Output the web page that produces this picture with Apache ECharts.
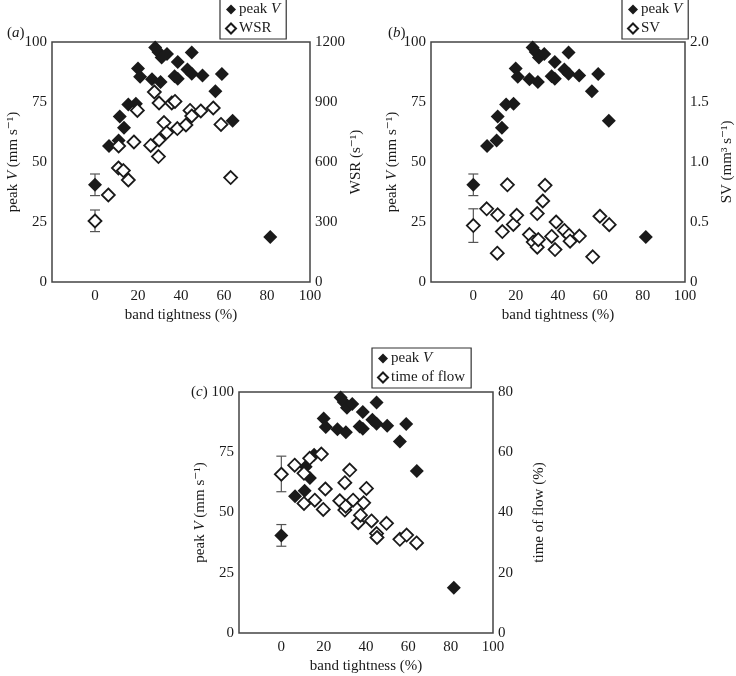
<!DOCTYPE html>
<html>
<head>
<meta charset="utf-8">
<script src="https://cdn.jsdelivr.net/npm/echarts@6/dist/echarts.min.js"></script>
<style>html,body{margin:0;padding:0;background:#fff}#c{width:736px;height:676px}</style>
</head>
<body>
<div id="c"></div>
<script>
// ---- data ----
const xTicks = [0, 20, 40, 60, 80, 100];
// peak V (same subjects in all panels)
const bandPeak = [0, 6.5, 11, 11.5, 13.5, 15.5, 19, 20, 21, 26.5, 28, 29.5, 30.5, 31, 33.5, 38.5, 37, 38.5, 43, 45, 45, 50, 56, 59, 64, 81.5];
const peakV   = [40.5, 56.7, 59, 69, 64.3, 74, 74.3, 89, 85.5, 84.5, 97.7, 95.8, 83.3, 93.5, 95, 91.7, 85.7, 84.7, 88.5, 86.8, 95.6, 86, 79.5, 86.7, 67.2, 18.8];
const errPeak = [36, 45];
// WSR (s^-1)
const bandW = [0, 6.2, 10.9, 11, 13.2, 15.5, 18.1, 19.7, 25.9, 27.6, 29.8, 29.5, 29.8, 32.1, 33.3, 35.7, 37.2, 38.3, 42.3, 44.2, 45, 49.2, 55, 58.6, 63.1];
const wsr   = [305, 435, 570, 680, 557, 510, 700, 858, 683, 950, 710, 627, 895, 797, 747, 895, 903, 767, 785, 858, 830, 855, 870, 788, 522];
const errWSR = [252, 360];
// SV (mm^3 s^-1)
const bandS = [0, 6.3, 11.3, 11.5, 13.7, 16.1, 18.9, 20.5, 26.5, 28.3, 30.2, 30.2, 30.7, 32.8, 33.9, 37, 38.6, 39.1, 43, 45.2, 45.7, 50.1, 56.4, 59.8, 64.2];
const sv    = [0.47, 0.61, 0.24, 0.56, 0.42, 0.81, 0.48, 0.556, 0.395, 0.333, 0.57, 0.29, 0.353, 0.675, 0.806, 0.38, 0.27, 0.5, 0.43, 0.39, 0.34, 0.383, 0.21, 0.548, 0.478];
const errSV = [0.33, 0.61];
// time of flow (%)
const bandT = [0, 6.3, 10.7, 10.7, 13.4, 15.8, 18.9, 19.8, 20.8, 27.6, 30, 30, 30.4, 32.3, 33.9, 36.3, 37.4, 38.9, 40.2, 42.6, 45, 45.2, 49.7, 56, 59.2, 63.9];
const tof   = [52.7, 55.7, 53, 43, 58, 44.1, 59.4, 41, 47.8, 43.9, 49.9, 40.8, 42.1, 54.1, 44.1, 36.6, 39.1, 43.2, 48, 37.2, 33, 31.7, 36.4, 31.1, 32.5, 29.9];
const errTOF = [46.9, 58.7];

// ---- helpers ----
const FONT = '"Liberation Serif", "DejaVu Serif", serif';
const FS = 15;
const INK = '#1a1a1a';
const AX = '#444';
const zip = (a, b) => a.map((v, i) => [v, b[i]]);
const rich = { i: { fontStyle: 'italic', fontFamily: FONT, fontSize: FS, color: INK } };

function xAxis(g) {
  return {
    gridIndex: g, type: 'value', min: -20, max: 100, interval: 20,
    axisLine: { show: false }, axisTick: { show: false }, splitLine: { show: false },
    axisLabel: { margin: 7, fontFamily: FONT, fontSize: FS, color: INK,
      formatter: v => (xTicks.indexOf(v) >= 0 ? String(v) : '') },
    name: 'band tightness (%)', nameLocation: 'middle', nameGap: 26,
    nameTextStyle: { fontFamily: FONT, fontSize: FS, color: INK }
  };
}
function yLeft(g) {
  return {
    gridIndex: g, type: 'value', position: 'left', min: 0, max: 100, interval: 25,
    axisLine: { show: false }, axisTick: { show: false }, splitLine: { show: false },
    axisLabel: { margin: 5, fontFamily: FONT, fontSize: FS, color: INK },
    name: 'peak {i|V} (mm s⁻¹)', nameLocation: 'middle', nameRotate: 90, nameGap: 30,
    nameTextStyle: { fontFamily: FONT, fontSize: FS, color: INK, rich: rich }
  };
}
function yRight(g, max, interval, name, gap, fmt) {
  return {
    gridIndex: g, type: 'value', position: 'right', min: 0, max: max, interval: interval,
    axisLine: { show: false }, axisTick: { show: false }, splitLine: { show: false },
    axisLabel: { margin: 5, fontFamily: FONT, fontSize: FS, color: INK, formatter: fmt || (v => String(v)) },
    name: name, nameLocation: 'middle', nameRotate: 90, nameGap: gap,
    nameTextStyle: { fontFamily: FONT, fontSize: FS, color: INK }
  };
}
function filled(x, y) {
  return { type: 'scatter', name: 'peak V', xAxisIndex: x, yAxisIndex: y, data: zip(bandPeak, peakV),
    symbol: 'diamond', symbolSize: 14, itemStyle: { color: INK, opacity: 1 }, z: 3 };
}
function open(x, y, name, xs, ys) {
  return { type: 'scatter', name: name, xAxisIndex: x, yAxisIndex: y, data: zip(xs, ys),
    symbol: 'diamond', symbolSize: 13,
    itemStyle: { color: '#fff', borderColor: INK, borderWidth: 1.8, opacity: 1 }, z: 4 };
}
function errBar(x, y, rng) {
  return { type: 'custom', xAxisIndex: x, yAxisIndex: y, silent: true, z: 2,
    data: [[0, rng[0], rng[1]]],
    renderItem: function (params, api) {
      const lo = api.coord([api.value(0), api.value(1)]);
      const hi = api.coord([api.value(0), api.value(2)]);
      const w = 5;
      const st = { stroke: '#555', lineWidth: 1.2 };
      return { type: 'group', children: [
        { type: 'line', shape: { x1: lo[0], y1: lo[1], x2: hi[0], y2: hi[1] }, style: st },
        { type: 'line', shape: { x1: lo[0] - w, y1: lo[1], x2: lo[0] + w, y2: lo[1] }, style: st },
        { type: 'line', shape: { x1: hi[0] - w, y1: hi[1], x2: hi[0] + w, y2: hi[1] }, style: st }
      ] };
    } };
}
function legend(left, top, names) {
  return { orient: 'vertical', left: left, top: top, data: names,
    backgroundColor: '#fff', borderColor: '#333', borderWidth: 1.2, padding: [3, 6, 3, 5],
    itemGap: 4, itemWidth: 10, itemHeight: 10, selectedMode: false,
    formatter: n => (n === 'peak V' ? 'peak {i|V}' : n),
    textStyle: { fontFamily: FONT, fontSize: FS, color: INK, padding: [0, 0, 0, -2], rich: rich } };
}
function panelLabel(left, top, letter) {
  return { type: 'text', left: left, top: top,
    style: { text: '({i|' + letter + '})', fontFamily: FONT, fontSize: FS, fill: INK,
      rich: { i: { fontStyle: 'italic', fontFamily: FONT, fontSize: FS, fill: INK } } } };
}

const gridStyle = { show: true, borderColor: AX, borderWidth: 1.5, backgroundColor: 'transparent' };
const option = {
  animation: false,
  backgroundColor: '#fff',
  grid: [
    Object.assign({ left: 52, top: 42, width: 258, height: 240 }, gridStyle),
    Object.assign({ left: 431, top: 42, width: 254, height: 240 }, gridStyle),
    Object.assign({ left: 239, top: 392, width: 254, height: 241 }, gridStyle)
  ],
  xAxis: [xAxis(0), xAxis(1), xAxis(2)],
  yAxis: [
    yLeft(0), yRight(0, 1200, 300, 'WSR (s⁻¹)', 31),
    yLeft(1), yRight(1, 2, 0.5, 'SV (mm³ s⁻¹)', 35, v => (v === 0 ? '0' : v.toFixed(1))),
    yLeft(2), yRight(2, 80, 20, 'time of flow (%)', 39)
  ],
  legend: [
    legend(220, -1, ['peak V', 'WSR']),
    legend(622, -1, ['peak V', 'SV']),
    legend(372, 348, ['peak V', 'time of flow'])
  ],
  graphic: [panelLabel(7, 26, 'a'), panelLabel(388, 26, 'b'), panelLabel(191, 385, 'c')],
  series: [
    errBar(0, 0, errPeak), errBar(0, 1, errWSR), filled(0, 0), open(0, 1, 'WSR', bandW, wsr),
    errBar(1, 2, errPeak), errBar(1, 3, errSV), filled(1, 2), open(1, 3, 'SV', bandS, sv),
    errBar(2, 4, errPeak), errBar(2, 5, errTOF), filled(2, 4), open(2, 5, 'time of flow', bandT, tof)
  ]
};
const chart = echarts.init(document.getElementById('c'), null, { renderer: 'canvas' });
chart.setOption(option);
</script>
</body>
</html>
